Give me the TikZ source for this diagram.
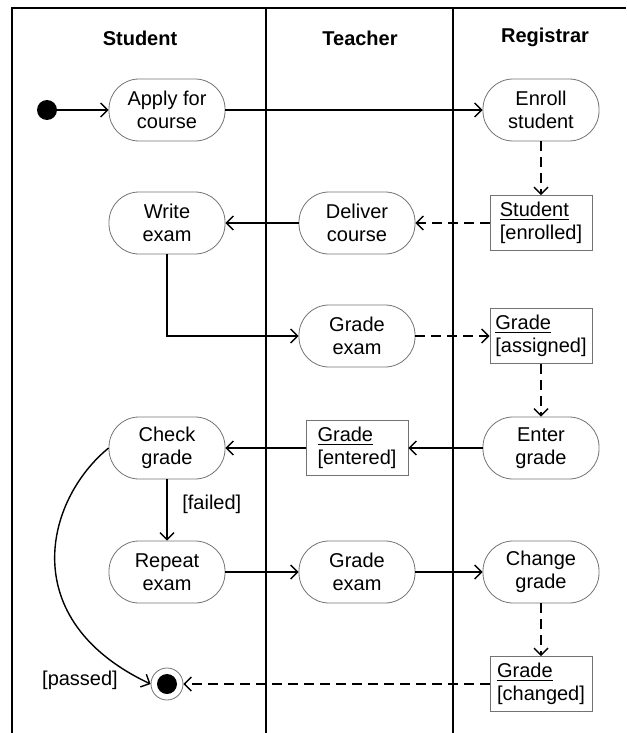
\documentclass[tikz,border=0pt]{standalone}
\usepackage{fontspec}
\setmainfont{Liberation Sans}
\usetikzlibrary{arrows.meta, positioning}

\begin{document}
\begin{tikzpicture}[
        x = 0.5pt, y = -0.5pt,
        on grid,
        node distance = 56.5pt and 95pt,
        >= {Straight Barb[length = 3.5pt, width = 7pt]},
        every node/.style = {font = \fontsize{10}{11.5}\selectfont},
        lanehead/.style = {font = \fontsize{10}{11.5}\selectfont\bfseries},
        activity/.style = {draw = black!55, line width = 0.4pt, rectangle, rounded corners = 15pt,
                           minimum width = 58pt, minimum height = 31pt, align = center, inner sep = 1pt},
        object/.style = {draw = black!55, line width = 0.4pt, rectangle,
                         minimum width = 51pt, minimum height = 27.5pt, align = left, inner sep = 1pt},
        initdot/.style = {circle, fill = black, minimum size = 10pt, inner sep = 0pt},
        finaldot/.style = {circle, draw = black!55, line width = 0.4pt, minimum size = 16pt, inner sep = 0pt,
                           path picture = {\fill (path picture bounding box.center) circle (5pt);}},
        lane/.style = {line width = 1.2pt},
        flow/.style = {->, line width = 0.7pt},
        dataflow/.style = {->, line width = 0.7pt, dash pattern = on 5pt off 3pt}
    ]

    \useasboundingbox (0,0) rectangle (626,733);

    % swimlanes
    \draw[lane] (12,733) -- (12,8) -- (626,8);
    \draw[lane] (266,8) -- (266,733);
    \draw[lane] (453,8) -- (453,733);

    \node[lanehead] (hstudent)   at (140,38) {Student};
    \node[lanehead] (hteacher)   at (360,38) {Teacher};
    \node[lanehead] (hregistrar) at (545,37) {Registrar};

    % activities
    \node[activity] (apply) at (167,110) {Apply for\\course};
    \node[initdot] (start) [left = 60pt of apply] {};
    \node[activity] (enroll) [right = 187pt of apply] {Enroll\\student};

    \node[activity] (write)   [below = of apply] {Write\\exam};
    \node[activity] (deliver) [right = of write] {Deliver\\course};
    \node[object]   (stuenr)  [right = 92pt of deliver] {\underline{Student}\\{[enrolled]}};

    \node[activity] (grade)    [below = of deliver] {Grade\\exam};
    \node[object]   (assigned) [right = 92pt of grade] {\underline{Grade}\\{[assigned]}};

    \node[activity] (check)   [below = 112.5pt of write] {Check\\grade};
    \node[object]   (entered) [right = of check] {\underline{Grade}\\{[entered]}};
    \node[activity] (enter)   [right = 92pt of entered] {Enter\\grade};

    \node[activity] (repeat)  [below = 62pt of check] {Repeat\\exam};
    \node[activity] (regrade) [right = of repeat] {Grade\\exam};
    \node[activity] (change)  [right = 92pt of regrade] {Change\\grade};

    \node[finaldot] (fin)     [below = 56pt of repeat] {};
    \node[object]   (changed) [right = 187pt of fin] {\underline{Grade}\\{[changed]}};
    \node (passed) [left = 43.5pt of fin, yshift = 2pt] {[passed]};

    % control flow
    \path[flow]
        (start)   edge (apply)
        (apply)   edge (enroll)
        (deliver) edge (write)
        (enter)   edge (entered)
        (entered) edge (check)
        (check)   edge node [right = 4pt, yshift = 3pt] {[failed]} (repeat)
        (repeat)  edge (regrade)
        (regrade) edge (change);

    \draw[flow] (write) |- (grade);
    \draw[flow] (check.west) .. controls (45,500) and (15,620) .. (fin.west);

    % object flow
    \path[dataflow]
        (enroll)   edge (stuenr)
        (stuenr)   edge (deliver)
        (grade)    edge (assigned)
        (assigned) edge (enter)
        (change)   edge (changed)
        (changed)  edge (fin);

\end{tikzpicture}
\end{document}
